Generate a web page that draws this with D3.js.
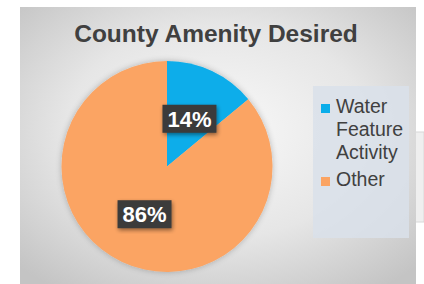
<!DOCTYPE html>
<html>
<head>
<meta charset="utf-8">
<script src="https://cdn.jsdelivr.net/npm/d3@7"></script>
<style>
  html, body { margin: 0; padding: 0; background: #fff; }
  svg { display: block; font-family: "Liberation Sans", Arial, sans-serif; }
</style>
</head>
<body>
<svg id="chart"></svg>
<script>
// chart data
var title = "County Amenity Desired";
var categories = ["Water Feature Activity", "Other"];
var legendLines = [["Water", "Feature", "Activity"], ["Other"]];
var values = [14, 86];
var colors = ["#0AADEA", "#FBA463"];

var svgWidth = 424, svgHeight = 284;
var svg = d3.select("#chart")
  .attr("width", svgWidth)
  .attr("height", svgHeight);

var defs = svg.append("defs");
var bg = defs.append("radialGradient")
  .attr("id", "bg")
  .attr("cx", "50%").attr("cy", "45%").attr("r", "70%");
bg.append("stop").attr("offset", "0%").attr("stop-color", "#f9f9f9");
bg.append("stop").attr("offset", "55%").attr("stop-color", "#e6e6e6");
bg.append("stop").attr("offset", "100%").attr("stop-color", "#c4c4c4");

var shadow = defs.append("filter").attr("id", "shadow")
  .attr("x", "-20%").attr("y", "-20%").attr("width", "140%").attr("height", "140%");
shadow.append("feGaussianBlur").attr("in", "SourceAlpha").attr("stdDeviation", 2);
shadow.append("feOffset").attr("dx", 1).attr("dy", 2).attr("result", "b");
shadow.append("feComponentTransfer").append("feFuncA").attr("type", "linear").attr("slope", 0.45);
var merge = shadow.append("feMerge");
merge.append("feMergeNode");
merge.append("feMergeNode").attr("in", "SourceGraphic");

var pieShadow = defs.append("filter").attr("id", "pieShadow")
  .attr("x", "-20%").attr("y", "-20%").attr("width", "140%").attr("height", "140%");
pieShadow.append("feGaussianBlur").attr("in", "SourceAlpha").attr("stdDeviation", 3);
pieShadow.append("feComponentTransfer").append("feFuncA").attr("type", "linear").attr("slope", 0.25);
var m2 = pieShadow.append("feMerge");
m2.append("feMergeNode");
m2.append("feMergeNode").attr("in", "SourceGraphic");

// stray box behind the chart on the right
svg.append("rect")
  .attr("x", 410).attr("y", 132).attr("width", 14).attr("height", 90)
  .attr("fill", "#efefef").attr("stroke", "#d8d8d8").attr("stroke-width", 1);

// chart panel
svg.append("rect")
  .attr("x", 20).attr("y", 7).attr("width", 396).attr("height", 277)
  .attr("fill", "url(#bg)");

svg.append("text")
  .attr("x", 216).attr("y", 42)
  .attr("text-anchor", "middle")
  .attr("font-size", 24.5).attr("font-weight", "bold")
  .attr("fill", "#404040")
  .text(title);

// pie
var cx = 167, cy = 166.5, radius = 105.5;
var pie = d3.pie().sort(null);
var arc = d3.arc().innerRadius(0).outerRadius(radius);
var arcs = pie(values);

var g = svg.append("g").attr("transform", "translate(" + cx + "," + cy + ")");
g.append("g").attr("filter", "url(#pieShadow)")
  .selectAll("path")
  .data(arcs)
  .join("path")
  .attr("d", arc)
  .attr("fill", function (d, i) { return colors[i]; });

// data labels
var lab = g.selectAll("g.lab")
  .data(arcs)
  .join("g")
  .attr("class", "lab")
  .attr("transform", function (d) {
    var c = arc.centroid(d);
    return "translate(" + c[0] + "," + c[1] + ")";
  });
lab.append("rect")
  .attr("x", -27).attr("y", -14).attr("width", 54).attr("height", 28)
  .attr("fill", "#3b3b3b")
  .attr("filter", "url(#shadow)");
lab.append("text")
  .attr("text-anchor", "middle")
  .attr("dy", "0.36em")
  .attr("font-size", 22).attr("font-weight", "bold")
  .attr("fill", "#ffffff")
  .text(function (d) { return d.data + "%"; });

// legend
svg.append("rect")
  .attr("x", 313).attr("y", 86).attr("width", 96).attr("height", 152)
  .attr("fill", "#d9e1ea").attr("opacity", 0.85);

var lineH = 23;
var ly = 113;
categories.forEach(function (c, i) {
  svg.append("rect")
    .attr("x", 321).attr("y", ly - 9).attr("width", 9).attr("height", 9)
    .attr("fill", colors[i]);
  legendLines[i].forEach(function (t, j) {
    svg.append("text")
      .attr("x", 336).attr("y", ly + j * lineH)
      .attr("font-size", 19.5)
      .attr("fill", "#404040")
      .text(t);
  });
  ly += (legendLines[i].length - 1) * lineH + 27;
});
</script>
</body>
</html>
